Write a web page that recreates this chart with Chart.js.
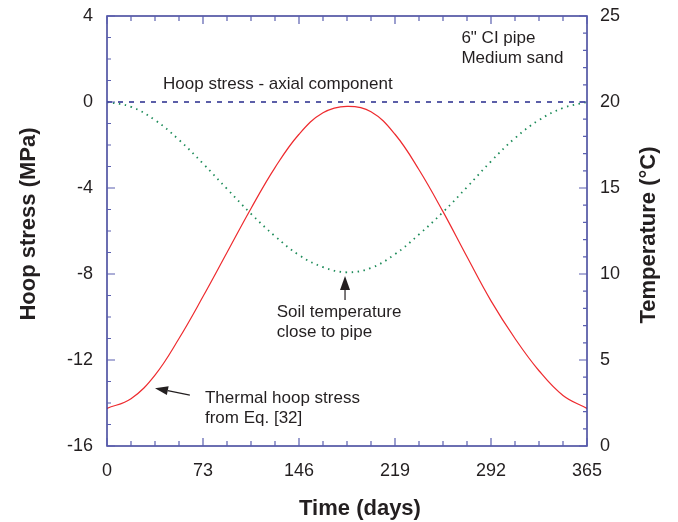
<!DOCTYPE html>
<html>
<head>
<meta charset="utf-8">
<script src="https://cdn.jsdelivr.net/npm/chart.js@4.4.1/dist/chart.umd.min.js"></script>
<style>
  body { margin: 0; background: #fff; }
  #wrap { width: 678px; height: 522px; }
</style>
</head>
<body>
<div id="wrap"><canvas id="c" width="678" height="522"></canvas></div>
<script>
// values
var days = [0, 18.25, 36.5, 54.75, 73, 91.25, 109.5, 127.75, 146, 164.25, 182.5,
            200.75, 219, 237.25, 255.5, 273.75, 292, 310.25, 328.5, 346.75, 365];
var hoopStress = [-14.25, -13.8, -12.7, -11.0, -9.05, -7.0, -4.95, -3.05, -1.5, -0.5, -0.2,
                  -0.45, -1.5, -3.15, -5.1, -7.2, -9.25, -11.0, -12.5, -13.65, -14.25];
var soilTemp = [20.0, 19.72, 18.95, 17.8, 16.42, 14.95, 13.5, 12.2, 11.1, 10.4, 10.1,
                10.35, 11.15, 12.3, 13.6, 15.05, 16.55, 17.9, 18.95, 19.65, 20.0];
var axialDays = [0, 365];
var axialStress = [0, 0];

var xTickStep = 73;
var stressTickStep = 4;
var tempTickStep = 5;

var FONT = '"Liberation Sans", Arial, Helvetica, sans-serif';
var AXIS_COL = '#3b3f98';
var TICK_COL = '#5a5fb0';
var TEXT_COL = '#231f20';

function arrow(ctx, x1, y1, x2, y2, headLen, headW) {
  var a = Math.atan2(y2 - y1, x2 - x1);
  var bx = x2 - headLen * Math.cos(a), by = y2 - headLen * Math.sin(a);
  ctx.beginPath();
  ctx.moveTo(x1, y1);
  ctx.lineTo(bx, by);
  ctx.stroke();
  ctx.beginPath();
  ctx.moveTo(x2, y2);
  ctx.lineTo(bx + headW / 2 * Math.sin(a), by - headW / 2 * Math.cos(a));
  ctx.lineTo(bx - headW / 2 * Math.sin(a), by + headW / 2 * Math.cos(a));
  ctx.closePath();
  ctx.fill();
}

var decor = {
  id: 'decor',
  afterDraw: function (chart) {
    var ctx = chart.ctx;
    var a = chart.chartArea;
    var sx = chart.scales.x, sy = chart.scales.y, st = chart.scales.yT;
    ctx.save();

    // frame
    ctx.strokeStyle = AXIS_COL;
    ctx.lineWidth = 1.5;
    ctx.strokeRect(a.left, a.top, a.right - a.left, a.bottom - a.top);

    // inward ticks
    ctx.strokeStyle = TICK_COL;
    ctx.lineWidth = 1.2;
    ctx.beginPath();
    var v, p, len;
    for (v = sx.min; v <= sx.max + 0.01; v += xTickStep / 4) {
      p = sx.getPixelForValue(v);
      len = (Math.abs(v / xTickStep - Math.round(v / xTickStep)) < 0.01) ? 8 : 5;
      ctx.moveTo(p, a.bottom); ctx.lineTo(p, a.bottom - len);
      ctx.moveTo(p, a.top); ctx.lineTo(p, a.top + len);
    }
    for (v = sy.min; v <= sy.max + 0.01; v += 1) {
      p = sy.getPixelForValue(v);
      len = (v % stressTickStep === 0) ? 8 : 4;
      ctx.moveTo(a.left, p); ctx.lineTo(a.left + len, p);
    }
    for (v = st.min; v <= st.max + 0.01; v += 1) {
      p = st.getPixelForValue(v);
      len = (v % tempTickStep === 0) ? 8 : 4;
      ctx.moveTo(a.right, p); ctx.lineTo(a.right - len, p);
    }
    ctx.stroke();

    // annotations
    ctx.fillStyle = TEXT_COL;
    ctx.font = '17px ' + FONT;
    ctx.textAlign = 'left';
    ctx.textBaseline = 'alphabetic';
    function txt(s, d, mpa) {
      ctx.fillText(s, sx.getPixelForValue(d), sy.getPixelForValue(mpa));
    }
    txt('6" CI pipe', 269.5, 2.73);
    txt('Medium sand', 269.5, 1.8);
    txt('Hoop stress - axial component', 42.6, 0.6);
    txt('Soil temperature', 129, -9.98);
    txt('close to pipe', 129, -10.93);
    txt('Thermal hoop stress', 74.5, -13.99);
    txt('from Eq. [32]', 74.5, -14.93);

    ctx.strokeStyle = '#231f20';
    ctx.lineWidth = 1.2;
    arrow(ctx, sx.getPixelForValue(63), sy.getPixelForValue(-13.63),
               sx.getPixelForValue(36.5), sy.getPixelForValue(-13.31), 13, 9);
    arrow(ctx, sx.getPixelForValue(181), sy.getPixelForValue(-9.21),
               sx.getPixelForValue(181), sy.getPixelForValue(-8.09), 14, 10);

    // axis titles
    ctx.font = 'bold 22px ' + FONT;
    ctx.textAlign = 'center';
    ctx.fillText('Time (days)', 360, 515);
    ctx.save();
    ctx.translate(35, 224);
    ctx.rotate(-Math.PI / 2);
    ctx.fillText('Hoop stress (MPa)', 0, 0);
    ctx.restore();
    ctx.save();
    ctx.translate(655, 235);
    ctx.rotate(-Math.PI / 2);
    ctx.fillText('Temperature (\u00B0C)', 0, 0);
    ctx.restore();

    ctx.restore();
  }
};

function pts(xs, ys) {
  return xs.map(function (x, i) { return { x: x, y: ys[i] }; });
}

var tickFont = { family: FONT, size: 18 };

new Chart(document.getElementById('c'), {
  type: 'line',
  data: {
    datasets: [
      {
        label: 'Hoop stress - axial component',
        data: pts(axialDays, axialStress),
        yAxisID: 'y',
        borderColor: '#262a8c',
        borderWidth: 1.3,
        borderDash: [5, 6],
        pointRadius: 0
      },
      {
        label: 'Soil temperature close to pipe',
        data: pts(days, soilTemp),
        yAxisID: 'yT',
        borderColor: '#1e8c5a',
        borderWidth: 1.8,
        borderDash: [1.5, 4.5],
        pointRadius: 0,
        tension: 0.4
      },
      {
        label: 'Thermal hoop stress',
        data: pts(days, hoopStress),
        yAxisID: 'y',
        borderColor: '#ee2a2e',
        borderWidth: 1.2,
        pointRadius: 0,
        tension: 0.4
      }
    ]
  },
  options: {
    responsive: false,
    animation: false,
    layout: { padding: { top: 16, left: 0, right: 0, bottom: 0 } },
    plugins: { legend: { display: false }, tooltip: { enabled: false } },
    scales: {
      x: {
        type: 'linear', min: 0, max: 365,
        grid: { display: false, drawTicks: false },
        border: { display: false },
        ticks: { stepSize: xTickStep, font: tickFont, color: TEXT_COL, padding: 14, maxRotation: 0 },
        afterFit: function (s) { s.height = 76; s.paddingLeft = 0; s.paddingRight = 0; }
      },
      y: {
        position: 'left', min: -16, max: 4,
        grid: { display: false, drawTicks: false },
        border: { display: false },
        ticks: { stepSize: stressTickStep, font: tickFont, color: TEXT_COL, padding: 14 },
        afterFit: function (s) { s.width = 107; s.paddingTop = 0; s.paddingBottom = 0; }
      },
      yT: {
        position: 'right', min: 0, max: 25,
        grid: { display: false, drawTicks: false },
        border: { display: false },
        ticks: { stepSize: tempTickStep, font: tickFont, color: TEXT_COL, padding: 13 },
        afterFit: function (s) { s.width = 91; s.paddingTop = 0; s.paddingBottom = 0; }
      }
    }
  },
  plugins: [decor]
});
</script>
</body>
</html>
